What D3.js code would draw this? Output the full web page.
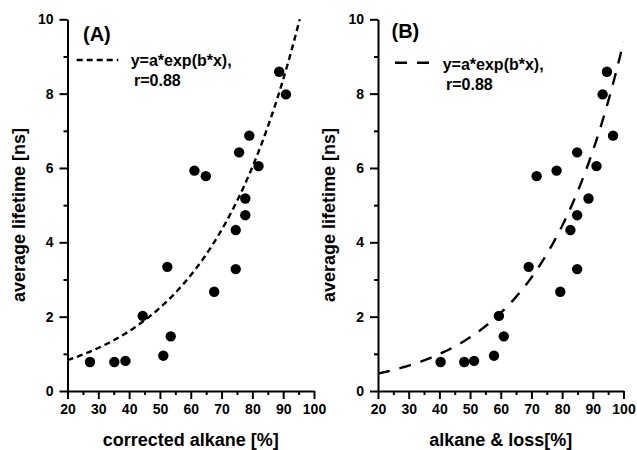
<!DOCTYPE html>
<html>
<head>
<meta charset="utf-8">
<script src="https://cdn.jsdelivr.net/npm/d3@7"></script>
<style>
  html, body { margin: 0; padding: 0; background: #fff; }
  svg text { font-family: "Liberation Sans", Arial, sans-serif; font-weight: bold; fill: #000; }
</style>
</head>
<body>
<svg id="chart" width="637" height="450"></svg>
<script>
// ---- Data ----
const xTicks = [20, 30, 40, 50, 60, 70, 80, 90, 100];
const yTicks = [0, 2, 4, 6, 8, 10];

// Panel A: corrected alkane [%] vs average lifetime [ns]
const xA = [27.3, 35.2, 38.8, 44.4, 51.1, 53.5, 52.4, 61.2, 64.9, 67.6, 74.6, 74.6, 75.7, 77.7, 77.7, 79.0, 82.0, 88.7, 90.9];
const yA = [0.78, 0.78, 0.81, 2.02, 0.95, 1.47, 3.34, 5.93, 5.78, 2.67, 3.28, 4.33, 6.42, 4.73, 5.18, 6.87, 6.05, 8.59, 7.98];
const fitA = { a: 0.43, b: 0.0330 };

// Panel B: alkane & loss [%] vs average lifetime [ns]
const xB = [40.4, 48.1, 51.3, 57.8, 59.4, 61.0, 69.1, 79.4, 84.9, 82.7, 84.9, 88.6, 71.7, 78.2, 84.9, 91.2, 96.6, 93.2, 94.6];
const yB = [0.78, 0.78, 0.81, 0.95, 2.02, 1.47, 3.34, 2.67, 3.28, 4.33, 4.73, 5.18, 5.78, 5.93, 6.42, 6.05, 6.87, 7.98, 8.59];
const fitB = { a: 0.222, b: 0.03745 };

const panels = [
  { label: "(A)", xs: xA, ys: yA, fit: fitA, xTitle: "corrected alkane [%]",
    left: 67.5, right: 314, dash: "6,4", labelPos: [83, 41], legY: 60, legLine: [76.7, 118.3], legText: 130.7, legText2: 134, textY1: 66, textY2: 86 },
  { label: "(B)", xs: xB, ys: yB, fit: fitB, xTitle: "alkane & loss[%]",
    left: 378, right: 623.5, dash: "12,10", labelPos: [391.5, 38], legY: 62.7, legLine: [395, 431.7], legText: 442.7, legText2: 446, textY1: 70, textY2: 90 }
];

const plotTop = 19.3, plotBottom = 391;
const svg = d3.select("#chart");

panels.forEach(p => {
  const x = d3.scaleLinear().domain([20, 100]).range([p.left, p.right]);
  const y = d3.scaleLinear().domain([0, 10]).range([plotBottom, plotTop]);
  const g = svg.append("g");

  // minor ticks
  g.append("g").attr("transform", `translate(0,${plotBottom})`)
    .call(d3.axisBottom(x).tickValues(d3.range(25, 100, 10)).tickSize(4).tickFormat(""))
    .call(a => { a.select(".domain").remove(); a.selectAll("line").attr("stroke-width", 2); });
  g.append("g").attr("transform", `translate(${p.left},0)`)
    .call(d3.axisLeft(y).tickValues([1, 3, 5, 7, 9]).tickSize(4).tickFormat(""))
    .call(a => { a.select(".domain").remove(); a.selectAll("line").attr("stroke-width", 2); });

  // major axes
  const xa = g.append("g").attr("transform", `translate(0,${plotBottom})`)
    .call(d3.axisBottom(x).tickValues(xTicks).tickSize(8).tickSizeOuter(0).tickPadding(5));
  xa.select(".domain").attr("stroke-width", 2);
  xa.selectAll("line").attr("stroke-width", 2);
  xa.selectAll("text").attr("font-size", 14).attr("font-family", '"Liberation Sans", Arial, sans-serif').attr("font-weight", "bold");

  const ya = g.append("g").attr("transform", `translate(${p.left},0)`)
    .call(d3.axisLeft(y).tickValues(yTicks).tickSize(8).tickSizeOuter(0).tickPadding(6));
  ya.select(".domain").attr("stroke-width", 2);
  ya.selectAll("line").attr("stroke-width", 2);
  ya.selectAll("text").attr("font-size", 14).attr("font-family", '"Liberation Sans", Arial, sans-serif').attr("font-weight", "bold");

  // axis titles
  g.append("text").attr("x", (p.left + p.right) / 2).attr("y", 446)
    .attr("text-anchor", "middle").attr("font-size", 18).text(p.xTitle);
  g.append("text").attr("transform", `translate(${p.left - 43},215) rotate(-90)`)
    .attr("text-anchor", "middle").attr("font-size", 18).text("average lifetime [ns]");

  // fit curve (y = a*exp(b*x)), clipped to plot area
  const clipId = "clip" + p.label.replace(/\W/g, "");
  svg.append("clipPath").attr("id", clipId).append("rect")
    .attr("x", p.left).attr("y", plotTop).attr("width", p.right - p.left).attr("height", plotBottom - plotTop);
  const xs = d3.range(20, 100.01, 0.5);
  const line = d3.line().x(d => x(d)).y(d => y(p.fit.a * Math.exp(p.fit.b * d)));
  g.append("path").datum(xs).attr("d", line).attr("clip-path", `url(#${clipId})`)
    .attr("fill", "none").attr("stroke", "#000").attr("stroke-width", 2.4)
    .attr("stroke-dasharray", p.dash);

  // points
  g.selectAll("circle.pt").data(p.xs.map((v, i) => [v, p.ys[i]])).enter()
    .append("circle").attr("class", "pt")
    .attr("cx", d => x(d[0])).attr("cy", d => y(d[1])).attr("r", 5.2).attr("fill", "#000");

  // panel label
  g.append("text").attr("x", p.labelPos[0]).attr("y", p.labelPos[1]).attr("font-size", 20).text(p.label);

  // legend
  g.append("line").attr("x1", p.legLine[0]).attr("x2", p.legLine[1]).attr("y1", p.legY).attr("y2", p.legY)
    .attr("stroke", "#000").attr("stroke-width", 2.4).attr("stroke-dasharray", p.dash);
  g.append("text").attr("x", p.legText).attr("y", p.textY1).attr("font-size", 16).text("y=a*exp(b*x),");
  g.append("text").attr("x", p.legText2).attr("y", p.textY2).attr("font-size", 16).text("r=0.88");
});
</script>
</body>
</html>
